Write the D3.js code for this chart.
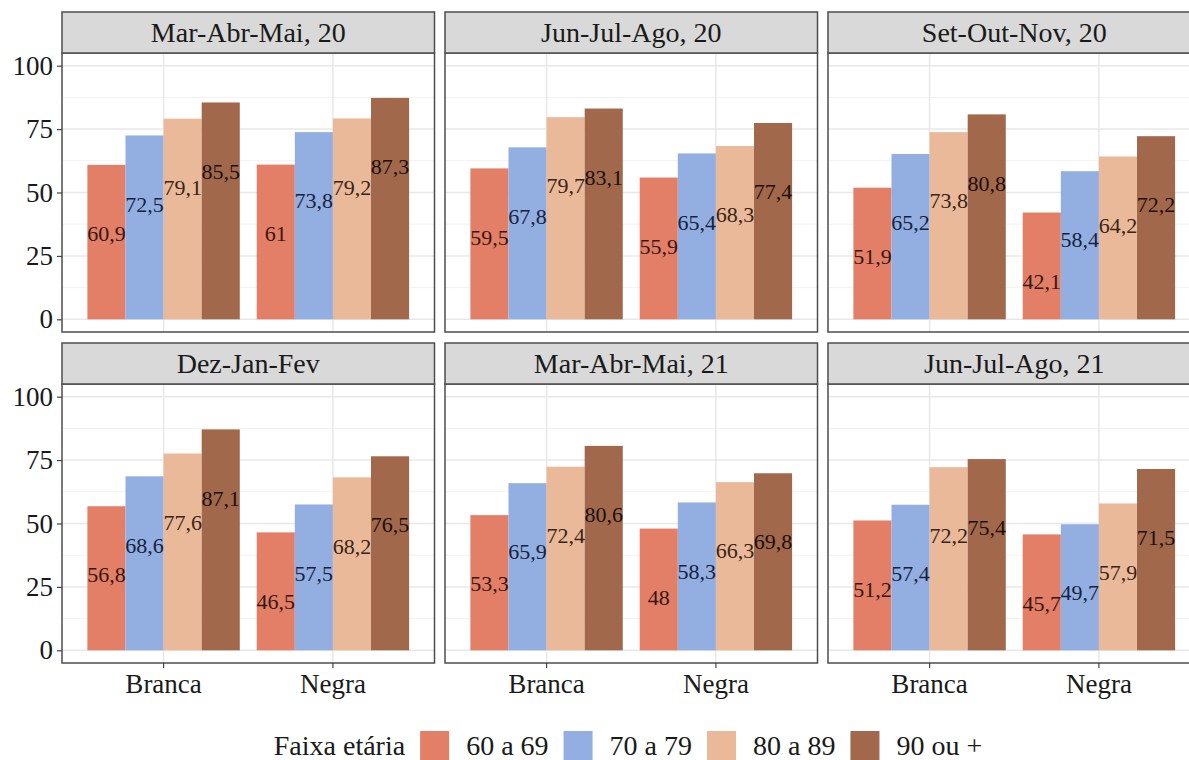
<!DOCTYPE html>
<html>
<head>
<meta charset="utf-8">
<script src="https://cdn.jsdelivr.net/npm/d3@7.9.0/dist/d3.min.js"></script>
<style>
  html, body { margin: 0; padding: 0; background: #fff; overflow: hidden; }
  svg { display: block; font-family: "Liberation Serif", "Times New Roman", serif; }
</style>
</head>
<body>
<svg id="chart" width="1189" height="760"></svg>
<script>
// data
const periods = ['Mar-Abr-Mai, 20', 'Jun-Jul-Ago, 20', 'Set-Out-Nov, 20',
                 'Dez-Jan-Fev', 'Mar-Abr-Mai, 21', 'Jun-Jul-Ago, 21'];
const races = ['Branca', 'Negra'];
const ageGroups = ['60 a 69', '70 a 79', '80 a 89', '90 ou +'];

const branca = [
  [60.9, 72.5, 79.1, 85.5],
  [59.5, 67.8, 79.7, 83.1],
  [51.9, 65.2, 73.8, 80.8],
  [56.8, 68.6, 77.6, 87.1],
  [53.3, 65.9, 72.4, 80.6],
  [51.2, 57.4, 72.2, 75.4]
];
const negra = [
  [61, 73.8, 79.2, 87.3],
  [55.9, 65.4, 68.3, 77.4],
  [42.1, 58.4, 64.2, 72.2],
  [46.5, 57.5, 68.2, 76.5],
  [48, 58.3, 66.3, 69.8],
  [45.7, 49.7, 57.9, 71.5]
];
const yTicks = [0, 25, 50, 75, 100];
const yMinor = [12.5, 37.5, 62.5, 87.5];

const fillColors = ['#e27f66', '#93afe1', '#e9b999', '#a1684b'];
const labelColors = ['#3a1610', '#16223f', '#3a2416', '#1c0f09'];

const svg = d3.select('#chart');

const panelLeft = 62, panelW = 372.5, gapX = 10.5;
const rowTop = [12, 343];
const stripH = 41, panelH = 279;

const y = d3.scaleLinear().domain([-5, 105]);
const color = d3.scaleOrdinal().domain(ageGroups).range(fillColors);
const labelColor = d3.scaleOrdinal().domain(ageGroups).range(labelColors);

const fmt = (v) => String(v).replace('.', ',');

periods.forEach((period, p) => {
  const col = p % 3, row = Math.floor(p / 3);
  const x0 = panelLeft + col * (panelW + gapX);
  const sTop = rowTop[row];
  const pTop = sTop + stripH;
  const pBot = pTop + panelH;

  y.range([pBot, pTop]);
  const x = d3.scaleBand().domain(races).range([x0, x0 + panelW])
    .paddingInner(0.1).paddingOuter(0.15);
  const xInner = d3.scaleBand().domain(ageGroups).range([0, x.bandwidth()]);

  const g = svg.append('g');

  // minor + major gridlines
  g.selectAll('.minor').data(yMinor).join('line')
    .attr('x1', x0).attr('x2', x0 + panelW)
    .attr('y1', (d) => y(d)).attr('y2', (d) => y(d))
    .attr('stroke', '#f2f2f2').attr('stroke-width', 1);
  g.selectAll('.major').data(yTicks).join('line')
    .attr('x1', x0).attr('x2', x0 + panelW)
    .attr('y1', (d) => y(d)).attr('y2', (d) => y(d))
    .attr('stroke', '#e8e8e8').attr('stroke-width', 1.5);
  g.selectAll('.vgrid').data(races).join('line')
    .attr('x1', (d) => x(d) + x.bandwidth() / 2).attr('x2', (d) => x(d) + x.bandwidth() / 2)
    .attr('y1', pTop).attr('y2', pBot)
    .attr('stroke', '#e8e8e8').attr('stroke-width', 1.5);

  const rows = races.map((r, i) => ({
    race: r,
    values: (i === 0 ? branca : negra)[p]
  }));

  rows.forEach((r) => {
    const gg = g.append('g').attr('transform', `translate(${x(r.race)},0)`);
    gg.selectAll('rect').data(r.values).join('rect')
      .attr('x', (d, i) => xInner(ageGroups[i]))
      .attr('width', xInner.bandwidth())
      .attr('y', (d) => y(d))
      .attr('height', (d) => y(0) - y(d))
      .attr('fill', (d, i) => color(ageGroups[i]));
    gg.selectAll('text').data(r.values).join('text')
      .attr('x', (d, i) => xInner(ageGroups[i]) + xInner.bandwidth() / 2)
      .attr('y', (d) => y(d - 27))
      .attr('dy', '0.35em')
      .attr('text-anchor', 'middle')
      .attr('font-size', 22)
      .attr('fill', (d, i) => labelColor(ageGroups[i]))
      .text(fmt);
  });

  // panel border
  g.append('rect')
    .attr('x', x0).attr('y', pTop).attr('width', panelW).attr('height', panelH)
    .attr('fill', 'none').attr('stroke', '#4d4d4d').attr('stroke-width', 1.5);

  // strip
  g.append('rect')
    .attr('x', x0).attr('y', sTop).attr('width', panelW).attr('height', stripH)
    .attr('fill', '#d9d9d9').attr('stroke', '#4d4d4d').attr('stroke-width', 1.5);
  g.append('text')
    .attr('x', x0 + panelW / 2).attr('y', sTop + stripH / 2)
    .attr('dy', '0.35em').attr('text-anchor', 'middle')
    .attr('font-size', 28).attr('fill', '#1a1a1a')
    .text(period);

  // y axis on first column
  if (col === 0) {
    const yAxis = svg.append('g')
      .attr('transform', `translate(${x0},0)`)
      .call(d3.axisLeft(y).tickValues(yTicks).tickSize(5).tickPadding(4));
    yAxis.select('.domain').remove();
    yAxis.selectAll('line').attr('stroke', '#444').attr('stroke-width', 1.2);
    yAxis.selectAll('text').attr('font-size', 27).attr('fill', '#1a1a1a')
      .attr('font-family', '"Liberation Serif", serif');
  }

  // x axis on bottom row
  if (row === 1) {
    const xAxis = svg.append('g')
      .attr('transform', `translate(0,${pBot})`)
      .call(d3.axisBottom(x).tickSize(5).tickPadding(6));
    xAxis.select('.domain').remove();
    xAxis.selectAll('line').attr('stroke', '#444').attr('stroke-width', 1.2);
    xAxis.selectAll('text').attr('font-size', 27).attr('fill', '#1a1a1a')
      .attr('font-family', '"Liberation Serif", serif');
  }
});

// legend
const legend = svg.append('g');
const legY = 745, keySize = 29;
let cx = 0;
const title = legend.append('text')
  .attr('x', cx).attr('y', legY).attr('dy', '0.35em')
  .attr('font-size', 28).attr('fill', '#1a1a1a').text('Faixa etária');
cx += title.node().getComputedTextLength() + 15;
ageGroups.forEach((a) => {
  legend.append('rect')
    .attr('x', cx).attr('y', legY - keySize / 2 + 0.5)
    .attr('width', keySize).attr('height', keySize)
    .attr('fill', color(a));
  cx += keySize + 17;
  const t = legend.append('text')
    .attr('x', cx).attr('y', legY).attr('dy', '0.35em')
    .attr('font-size', 28).attr('fill', '#1a1a1a').text(a);
  cx += t.node().getComputedTextLength() + 15;
});
cx -= 15;
legend.attr('transform', `translate(${628 - cx / 2},0)`);
</script>
</body>
</html>
